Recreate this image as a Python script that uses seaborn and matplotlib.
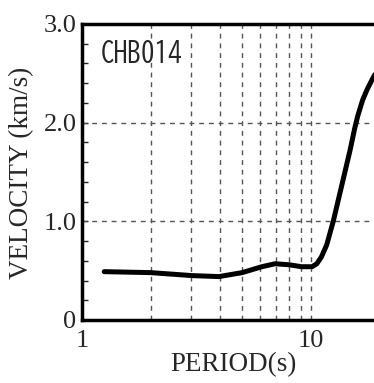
import matplotlib
matplotlib.use("Agg")
import matplotlib.pyplot as plt
import matplotlib.font_manager as fm
import seaborn as sns
import pandas as pd
from matplotlib.ticker import FixedLocator, MultipleLocator, NullFormatter, NullLocator

period = [1.25, 2.0, 3.02, 3.96, 5.0, 6.1, 6.96, 8.0, 9.1, 10.1, 10.6, 11.1, 11.7, 12.5, 13.7, 14.8, 15.5, 16.0, 16.8, 17.6, 18.8, 20.0]
velocity = [0.49, 0.48, 0.45, 0.44, 0.48, 0.54, 0.57, 0.56, 0.54, 0.54, 0.57, 0.64, 0.76, 1.00, 1.39, 1.72, 1.94, 2.07, 2.23, 2.34, 2.47, 2.57]
station = "CHB014"
xtick_vals = [1, 10]
xtick_labels = ["1", "10"]
ytick_vals = [0, 1.0, 2.0, 3.0]
ytick_labels = ["0", "1.0", "2.0", "3.0"]

available = set(f.name for f in fm.fontManager.ttflist)
def pick(cands, default):
    for c in cands:
        if c in available:
            return c
    return default

serif = pick(["Liberation Serif", "Tinos", "Times New Roman", "Nimbus Roman", "TeX Gyre Termes", "STIX Two Text", "STIXGeneral"], "DejaVu Serif")
gothic = pick(["BIZ UDGothic", "Sawarabi Gothic", "Zen Kaku Gothic New", "Noto Sans CJK JP"], "DejaVu Sans")

sns.set_style("ticks")
plt.rcParams['font.family'] = [serif, 'DejaVu Serif']

df = pd.DataFrame({"period": period, "velocity": velocity})

fig = plt.figure(figsize=(3.74, 3.83), dpi=100)
ax = fig.add_axes([82/374, 1-320/383, (380-82)/374, (320-24)/383])

ax.set_xscale("log")
ax.set_xlim(1, 20)
ax.set_ylim(0, 3.0)

for xv in range(2, 11):
    ax.axvline(xv, color="#555555", lw=1.0, ls=(0, (3.5, 3.5)), zorder=1)
for yv in [1.0, 2.0]:
    ax.axhline(yv, color="#555555", lw=1.0, ls=(0, (3.5, 3.5)), zorder=1)

sns.lineplot(data=df, x="period", y="velocity", ax=ax, color="black", lw=3.6, zorder=3, legend=False)

ax.xaxis.set_major_locator(FixedLocator(xtick_vals))
ax.set_xticklabels(xtick_labels)
ax.xaxis.set_minor_locator(NullLocator())
ax.xaxis.set_minor_formatter(NullFormatter())
ax.set_yticks(ytick_vals)
ax.set_yticklabels(ytick_labels)
ax.yaxis.set_minor_locator(MultipleLocator(0.2))

ax.tick_params(axis="x", which="both", length=0, labelsize=19, pad=7)
ax.tick_params(axis="y", which="major", direction="in", length=4, width=1, labelsize=19, pad=4, right=True)
ax.tick_params(axis="y", which="minor", direction="in", length=4, width=1, right=True)

for s in ax.spines.values():
    s.set_linewidth(2.5)
    s.set_color("black")

ax.set_xlabel("PERIOD(s)", fontsize=19.5)
ax.set_ylabel("VELOCITY (km/s)", fontsize=19.5)
ax.xaxis.set_label_coords((233-82)/(380-82), -(365-320)/296, transform=ax.transAxes)
ax.xaxis.label.set_va("center")
ax.yaxis.set_label_coords(-(82-22)/298, (320-173)/296, transform=ax.transAxes)
ax.yaxis.label.set_va("center")

ax.text(101/374, 1-52/383, station, transform=fig.transFigure, fontsize=19.5,
        family=[gothic, 'DejaVu Sans'], va="center", ha="left")

fig.savefig("out.png", dpi=100)
